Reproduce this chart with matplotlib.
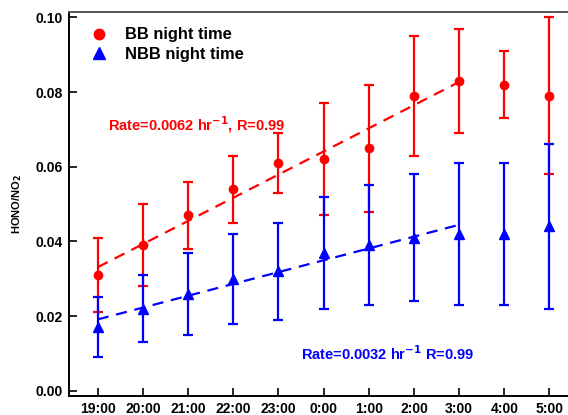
import numpy as np
import matplotlib.pyplot as plt
from matplotlib.lines import Line2D

plt.rcParams['font.family'] = ['Liberation Sans', 'DejaVu Sans']
plt.rcParams['font.weight'] = 'bold'

hours = ['19:00', '20:00', '21:00', '22:00', '23:00', '0:00',
         '1:00', '2:00', '3:00', '4:00', '5:00']

bb_mean = [0.031, 0.039, 0.047, 0.054, 0.061, 0.062, 0.065, 0.079, 0.083, 0.082, 0.079]
bb_err = [0.010, 0.011, 0.009, 0.009, 0.008, 0.015, 0.017, 0.016, 0.014, 0.009, 0.021]

nbb_mean = [0.017, 0.022, 0.026, 0.030, 0.032, 0.037, 0.039, 0.041, 0.042, 0.042, 0.044]
nbb_err = [0.008, 0.009, 0.011, 0.012, 0.013, 0.015, 0.016, 0.017, 0.019, 0.019, 0.022]

n_fit = 9  # linear fit over 19:00 - 3:00

x = np.arange(len(hours))

fig = plt.figure(figsize=(5.68, 4.15), dpi=100)
ax = fig.add_axes([0.122, 0.0458, 0.878, 0.925])

ax.errorbar(x, bb_mean, yerr=bb_err, fmt='o', color='red', ms=6,
            elinewidth=1.6, capsize=3.6, capthick=1.6)
ax.errorbar(x, nbb_mean, yerr=nbb_err, fmt='^', color='blue', ms=6.5,
            elinewidth=1.6, capsize=3.6, capthick=1.6)

xf = x[:n_fit]
p_bb = np.polyfit(xf, bb_mean[:n_fit], 1)
p_nbb = np.polyfit(xf, nbb_mean[:n_fit], 1)
ax.plot(xf, np.polyval(p_bb, xf), '--', color='red', lw=1.6, dashes=(5, 3.5))
ax.plot(xf, np.polyval(p_nbb, xf), '--', color='blue', lw=1.6, dashes=(5, 3.5))

ax.text(0.22, 0.0713, 'Rate=0.0062 hr$^{\\mathbf{-1}}$, R=0.99', color='red',
        fontsize=10.5, fontweight='bold', va='center')
ax.text(4.5, 0.0099, 'Rate=0.0032 hr$^{\\mathbf{-1}}$ R=0.99', color='blue',
        fontsize=10.5, fontweight='bold', va='center')

ax.set_xlim(-0.63, 10.41)
ax.set_ylim(-0.0014, 0.1014)
ax.set_xticks(x)
ax.set_xticklabels(hours)
ax.set_yticks([0.0, 0.02, 0.04, 0.06, 0.08, 0.10])
ax.set_yticklabels(['0.00', '0.02', '0.04', '0.06', '0.08', '0.10'])
ax.tick_params(direction='in', length=6, width=1.2, labelsize=10)
ax.tick_params(axis='x', pad=4.5)
ax.tick_params(axis='y', pad=5)

ax.set_ylabel('HONO/NO$_\\mathbf{2}$', fontsize=8, fontweight='bold', labelpad=8)

ax.spines['right'].set_visible(False)
ax.spines['top'].set_color('#555555')
for s in ['left', 'bottom', 'top']:
    ax.spines[s].set_linewidth(1.4)

handles = [Line2D([], [], ls='none', marker='o', color='red', ms=7.5),
           Line2D([], [], ls='none', marker='^', color='blue', ms=8)]
ax.legend(handles, ['BB night time', 'NBB night time'], loc='upper left',
          bbox_to_anchor=(0.042, 0.96), frameon=False, fontsize=11.9,
          handlelength=1.0, handletextpad=1.1, labelspacing=0.28,
          borderaxespad=0, borderpad=0)

plt.savefig('out.png', dpi=100)
